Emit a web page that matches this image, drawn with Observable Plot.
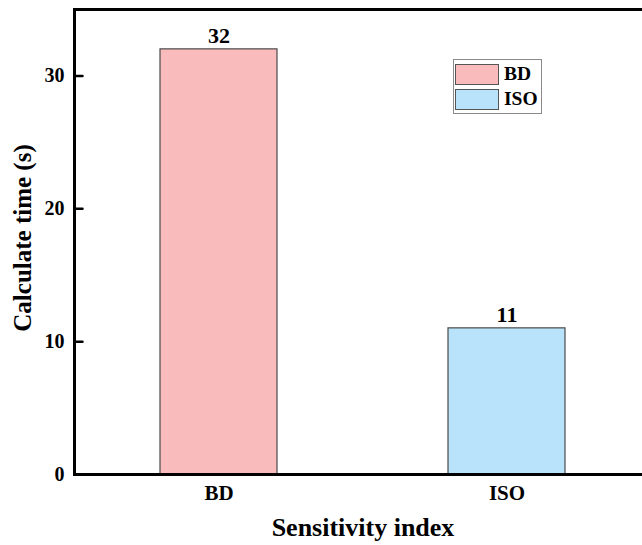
<!DOCTYPE html>
<html>
<head>
<meta charset="utf-8">
<script src="https://cdn.jsdelivr.net/npm/d3@7"></script>
<script src="https://cdn.jsdelivr.net/npm/@observablehq/plot@0.6"></script>
<style>
html, body { margin: 0; padding: 0; overflow: hidden; background: #fff; }
#wrap { position: relative; width: 642px; height: 545px; overflow: hidden; }
#chart svg { max-width: none !important; }
#legend { position: absolute; left: 453px; top: 59px; width: 87px; height: 53px; border: 1px solid #8a8a8a; background: #fff;
  font-family: "Liberation Serif", serif; font-weight: bold; font-size: 19.5px; }
.item { position: absolute; left: 1px; height: 22px; display: flex; align-items: center; }
.sw { width: 42px; height: 19px; border: 1.5px solid #555; margin-right: 5px; }
</style>
</head>
<body>
<div id="wrap"><div id="chart"></div><div id="legend"></div></div>
<script>
const categories = ["BD", "ISO"];
const values = [32, 11];
const colors = ["#FABBBC", "#B8E3FA"];
const yTicks = [0, 10, 20, 30];
const xTitle = "Sensitivity index";
const yTitle = "Calculate time (s)";

const data = categories.map((c, i) => ({cat: c, value: values[i]}));
const tickShape = {draw(ctx, l) { ctx.moveTo(0, 0); ctx.lineTo(0, -l); }};

const chart = Plot.plot({
  width: 660,
  height: 545,
  marginLeft: 74,
  marginRight: 9,
  marginTop: 9,
  marginBottom: 71,
  style: {fontFamily: "Liberation Serif, serif", fontWeight: "bold", fontSize: "16px", color: "#000", background: "#fff", maxWidth: "none"},
  x: {domain: categories, paddingInner: 0.595, paddingOuter: 0.296, axis: null},
  y: {domain: [0, 35], axis: null},
  color: {domain: categories, range: colors},
  marks: [
    Plot.barY(data, {x: "cat", y: "value", fill: "cat", stroke: "#4a4a4a", strokeWidth: 1.2}),
    Plot.text(data, {x: "cat", y: "value", text: d => String(d.value), dy: -13, fontSize: 22, fill: "#000"}),
    Plot.vector(yTicks, {y: d => d, frameAnchor: "left", length: 8, rotate: 90, anchor: "start", shape: tickShape, stroke: "#000", strokeWidth: 2.5}),
    Plot.text(yTicks, {y: d => d, frameAnchor: "left", dx: -10, textAnchor: "end", text: d => String(d), fontSize: 20, fill: "#000"}),
    Plot.text(categories, {x: d => d, frameAnchor: "bottom", dy: 25, text: d => d, fontSize: 21, fill: "#000"}),
    Plot.frame({stroke: "#000", strokeWidth: 3}),
    Plot.text([yTitle], {frameAnchor: "left", textAnchor: "middle", rotate: -90, dx: -52, dy: -4, fontSize: 25, fill: "#000"}),
    Plot.text([xTitle], {frameAnchor: "bottom", dy: 61, fontSize: 26, fill: "#000"})
  ]
});
document.getElementById("chart").appendChild(chart);

const legend = document.getElementById("legend");
categories.forEach((c, i) => {
  const item = document.createElement("div");
  item.className = "item";
  item.style.top = (3 + i * 25) + "px";
  const sw = document.createElement("div");
  sw.className = "sw";
  sw.style.background = colors[i];
  item.appendChild(sw);
  const t = document.createElement("span");
  t.textContent = c;
  item.appendChild(t);
  legend.appendChild(item);
});
</script>
</body>
</html>
